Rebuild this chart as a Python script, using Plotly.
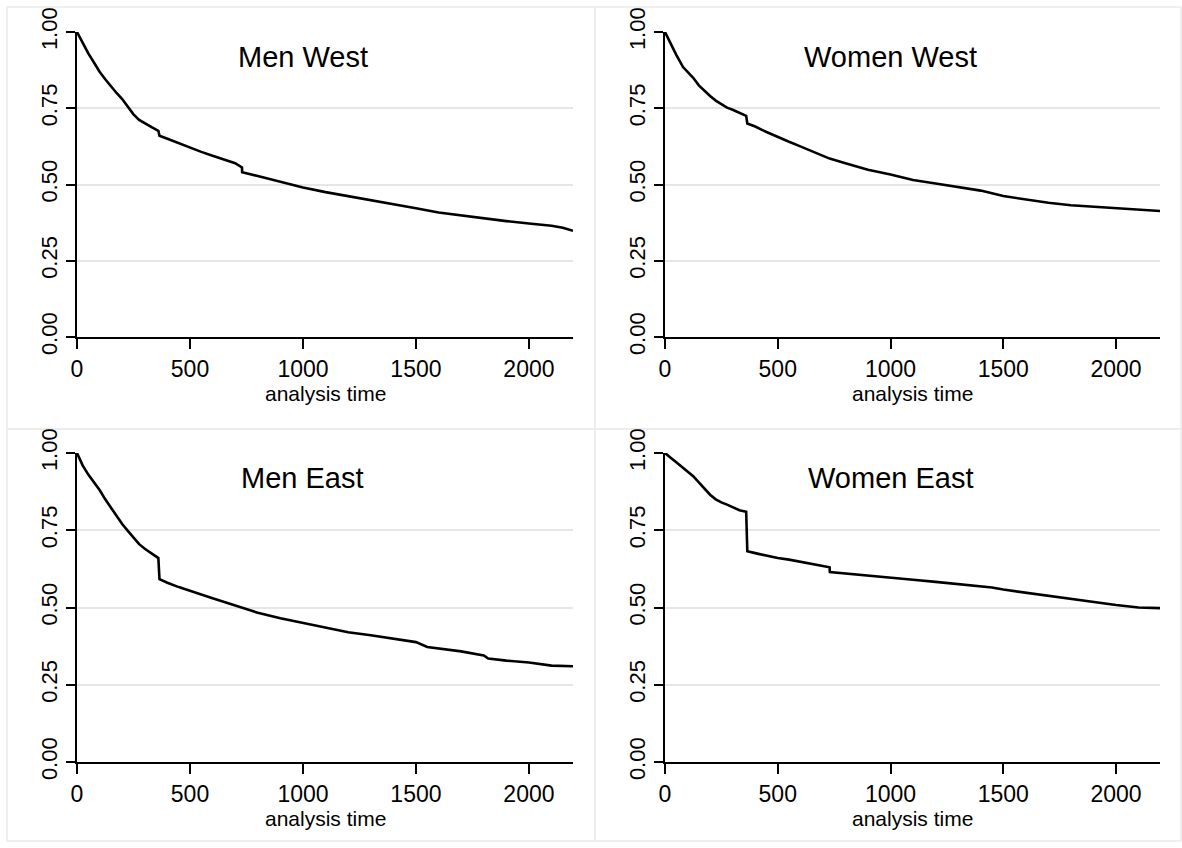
import plotly.graph_objects as go

# ---------------- data ----------------
panel_titles = ["Men West", "Women West", "Men East", "Women East"]
x_ticks = [0, 500, 1000, 1500, 2000]
y_ticks = [0.0, 0.25, 0.5, 0.75, 1.0]
x_title = "analysis time"

men_west_t = [0, 10, 25, 50, 75, 100, 125, 150, 175, 200, 225, 250, 275, 300, 330, 360, 365,
              400, 450, 500, 550, 600, 650, 700, 730, 731, 800, 900, 1000, 1100, 1200, 1300,
              1400, 1500, 1600, 1700, 1800, 1900, 2000, 2100, 2150, 2180, 2195]
men_west_s = [1.000, 0.985, 0.962, 0.930, 0.900, 0.870, 0.845, 0.822, 0.800, 0.780, 0.755,
              0.730, 0.712, 0.700, 0.688, 0.676, 0.660, 0.650, 0.635, 0.620, 0.607, 0.594,
              0.582, 0.570, 0.556, 0.540, 0.528, 0.510, 0.490, 0.475, 0.462, 0.450, 0.435,
              0.422, 0.408, 0.398, 0.388, 0.380, 0.372, 0.365, 0.358, 0.350, 0.348]

women_west_t = [0, 10, 25, 50, 80, 100, 125, 150, 177, 200, 225, 250, 275, 300, 330, 360, 365,
                400, 450, 500, 550, 600, 650, 700, 730, 800, 900, 1000, 1100, 1200, 1300, 1400,
                1500, 1600, 1700, 1800, 1900, 2000, 2100, 2195]
women_west_s = [1.000, 0.985, 0.960, 0.925, 0.885, 0.870, 0.850, 0.825, 0.805, 0.790, 0.775,
                0.762, 0.752, 0.745, 0.735, 0.725, 0.700, 0.690, 0.672, 0.655, 0.640, 0.625,
                0.610, 0.595, 0.585, 0.570, 0.548, 0.533, 0.515, 0.503, 0.492, 0.480, 0.462,
                0.450, 0.440, 0.432, 0.427, 0.422, 0.418, 0.413]

men_east_t = [0, 10, 25, 50, 75, 100, 125, 150, 175, 200, 225, 250, 275, 300, 330, 360, 365,
              400, 450, 500, 550, 600, 650, 700, 750, 800, 900, 1000, 1100, 1200, 1300, 1400,
              1500, 1550, 1600, 1700, 1800, 1820, 1900, 2000, 2100, 2195]
men_east_s = [1.000, 0.985, 0.960, 0.930, 0.905, 0.880, 0.850, 0.822, 0.795, 0.770, 0.748,
              0.725, 0.705, 0.690, 0.675, 0.660, 0.592, 0.580, 0.566, 0.553, 0.542, 0.530,
              0.518, 0.505, 0.495, 0.483, 0.465, 0.450, 0.435, 0.420, 0.410, 0.398, 0.388,
              0.372, 0.368, 0.358, 0.345, 0.335, 0.328, 0.322, 0.312, 0.310]

women_east_t = [0, 10, 25, 50, 75, 100, 125, 150, 175, 200, 225, 250, 275, 300, 330, 360, 365,
                400, 450, 500, 550, 600, 650, 700, 730, 731, 800, 900, 1000, 1100, 1200, 1300,
                1400, 1450, 1500, 1600, 1700, 1800, 1900, 2000, 2100, 2195]
women_east_s = [1.000, 0.995, 0.985, 0.970, 0.955, 0.942, 0.925, 0.905, 0.885, 0.865, 0.850,
                0.840, 0.833, 0.825, 0.815, 0.810, 0.682, 0.676, 0.668, 0.660, 0.655, 0.648,
                0.642, 0.636, 0.630, 0.615, 0.610, 0.602, 0.596, 0.590, 0.583, 0.575, 0.568,
                0.565, 0.558, 0.548, 0.537, 0.528, 0.518, 0.508, 0.500, 0.498]

series = [(men_west_t, men_west_s), (women_west_t, women_west_s),
          (men_east_t, men_east_s), (women_east_t, women_east_s)]

# ---------------- layout ----------------
W, H = 1182, 848
FONT = "Liberation Sans, Arial, Helvetica, sans-serif"
GRID = "#e6e6e6"
BORDER = "#ececec"

col_x = [(77, 573), (665, 1160)]
row_y = [(32, 337), (453, 762)]
frame_x = [(7, 595), (595, 1181)]
frame_y = [(7, 429), (429, 841)]

fig = go.Figure()
shapes = []
annotations = []

for i, (t, s) in enumerate(series):
    r, c = divmod(i, 2)
    n = "" if i == 0 else str(i + 1)
    xa, ya = "x" + n, "y" + n
    x0, x1 = col_x[c]
    y0, y1 = row_y[r]
    fig.add_trace(go.Scatter(
        x=t, y=s, mode="lines", line=dict(color="black", width=2.6, shape="linear"),
        xaxis=xa, yaxis=ya, showlegend=False, hoverinfo="x+y"))
    fig.layout["xaxis" + n] = dict(
        domain=[x0 / W, x1 / W], anchor=ya, range=[0, 2195], automargin=False,
        tickmode="array", tickvals=x_ticks, ticktext=[str(v) for v in x_ticks],
        ticks="outside", ticklen=10, tickwidth=1.5, tickcolor="black",
        showline=True, linecolor="black", linewidth=2.4, showgrid=False, zeroline=False,
        tickfont=dict(family=FONT, size=23, color="black"),
    )
    fig.layout["yaxis" + n] = dict(
        domain=[1 - y1 / H, 1 - y0 / H], anchor=xa, range=[0, 1], automargin=False,
        tickmode="array", tickvals=y_ticks, ticktext=["%.2f" % v for v in y_ticks],
        ticks="outside", ticklen=9, tickwidth=1.5, tickcolor="black", tickangle=-90,
        showline=True, linecolor="black", linewidth=2.4,
        showgrid=True, gridcolor=GRID, gridwidth=2, zeroline=False,
        tickfont=dict(family=FONT, size=22, color="black"),
    )
    # x-axis title placed just below the tick labels
    annotations.append(dict(text=x_title, xref=xa + " domain", yref=ya + " domain",
                            x=0.5, y=0, xanchor="center", yanchor="top", yshift=-43,
                            showarrow=False, font=dict(family=FONT, size=21, color="black")))
    shapes.append(dict(type="rect", xref=xa, yref=ya, x0=620, x1=1477, y0=0.86, y1=1.015,
                       fillcolor="white", line=dict(width=0), layer="above"))
    annotations.append(dict(text=panel_titles[i], xref=xa, yref=ya, x=1000, y=0.918,
                            showarrow=False, xanchor="center", yanchor="middle",
                            font=dict(family=FONT, size=29, color="black")))
    fx0, fx1 = frame_x[c]
    fy0, fy1 = frame_y[r]
    shapes.append(dict(type="rect", xref="paper", yref="paper",
                       x0=fx0 / W, x1=fx1 / W, y0=1 - fy1 / H, y1=1 - fy0 / H,
                       line=dict(color=BORDER, width=1.5), layer="below"))

fig.update_layout(
    width=W, height=H, margin=dict(l=0, r=0, t=0, b=0, autoexpand=False),
    paper_bgcolor="white", plot_bgcolor="white",
    shapes=shapes, annotations=annotations, showlegend=False,
    font=dict(family=FONT, color="black"),
)

fig.write_html(
    "out.html",
    config={"displayModeBar": False},
    post_script="document.body.style.margin='0';document.body.style.overflow='hidden';",
)
